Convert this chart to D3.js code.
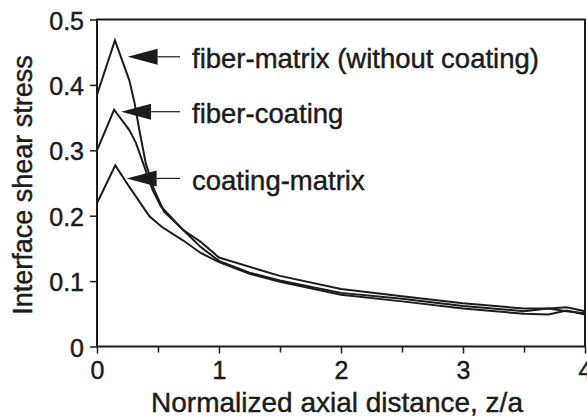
<!DOCTYPE html>
<html>
<head>
<meta charset="utf-8">
<script src="https://cdn.jsdelivr.net/npm/d3@7"></script>
<style>
  body { margin: 0; background: #fff; }
  svg { display: block; }
  text {
    font-family: "Liberation Sans", Arial, Helvetica, sans-serif;
    fill: #1c1c1c;
    stroke: #1c1c1c;
    stroke-width: 0.45px;
  }
</style>
</head>
<body>
<svg id="chart" width="587" height="419"></svg>
<script>
// Interface shear stress along the normalized axial distance z/a
const seriesNames = ["fiber-matrix (without coating)", "fiber-coating", "coating-matrix"];

const xFiberMatrix = [0, 0.147, 0.265, 0.306, 0.347, 0.40, 0.47, 0.55, 0.707, 0.85, 1.0, 1.336, 1.5, 2.0, 2.5, 3.0, 3.5, 3.7, 3.85, 4.0];
const yFiberMatrix = [0.385, 0.468, 0.407, 0.374, 0.331, 0.28, 0.239, 0.206, 0.178, 0.160, 0.136, 0.117, 0.108, 0.088, 0.077, 0.066, 0.058, 0.058, 0.060, 0.054];

const xFiberCoating = [0, 0.14, 0.265, 0.32, 0.388, 0.456, 0.525, 0.707, 0.85, 1.0, 1.25, 1.5, 2.0, 2.5, 3.0, 3.5, 3.7, 3.85, 4.0];
const yFiberCoating = [0.30, 0.362, 0.331, 0.311, 0.275, 0.239, 0.214, 0.178, 0.152, 0.131, 0.113, 0.101, 0.082, 0.073, 0.062, 0.054, 0.058, 0.054, 0.051];

const xCoatingMatrix = [0, 0.15, 0.265, 0.43, 0.53, 0.707, 0.85, 1.0, 1.25, 1.5, 2.0, 2.5, 3.0, 3.5, 3.7, 3.85, 4.0];
const yCoatingMatrix = [0.219, 0.277, 0.244, 0.199, 0.183, 0.162, 0.143, 0.129, 0.111, 0.099, 0.079, 0.069, 0.058, 0.050, 0.049, 0.055, 0.049];

// Arrow tips of the curve labels, in data units
const arrowTipX = [0.251, 0.197, 0.243];
const arrowTipY = [0.443, 0.359, 0.257];

const xMajorTicks = [0, 1, 2, 3, 4];
const xMinorTicks = [0.5, 1.5, 2.5, 3.5];
const yTicks = [0, 0.1, 0.2, 0.3, 0.4, 0.5];
const yTickLabels = ["0", "0.1", "0.2", "0.3", "0.4", "0.5"];
const xTickLabels = ["0", "1", "2", "3", "4"];

const xTitle = "Normalized axial distance, z/a";
const yTitle = "Interface shear stress";

const svg = d3.select("#chart");
const W = 587, H = 419;
const margin = { left: 97, right: 2, top: 19.5, bottom: 72.5 };

const x = d3.scaleLinear().domain([0, 4]).range([margin.left, W - margin.right]);
const y = d3.scaleLinear().domain([0, 0.5]).range([H - margin.bottom, margin.top]);

const ink = "#1c1c1c";

// Y axis
const yAxis = svg.append("g")
  .attr("transform", `translate(${x(0)},0)`)
  .call(d3.axisLeft(y).tickValues(yTicks).tickSize(7).tickPadding(6)
    .tickFormat((d, i) => yTickLabels[i]));
yAxis.select(".domain").remove();
yAxis.selectAll("line").attr("stroke", ink).attr("stroke-width", 1.5);
yAxis.selectAll("text").attr("font-size", 25).attr("fill", ink).attr("dy", "0.38em");

// X axis, major and minor ticks (the last label runs past the right edge)
const xAxis = svg.append("g")
  .attr("transform", `translate(0,${y(0)})`)
  .call(d3.axisBottom(x).tickValues(xMajorTicks).tickSize(7).tickPadding(8)
    .tickFormat((d, i) => xTickLabels[i]));
xAxis.select(".domain").remove();
xAxis.selectAll("line").attr("stroke", ink).attr("stroke-width", 1.5);
xAxis.selectAll("text").attr("font-size", 25).attr("fill", ink);

const xMinor = svg.append("g")
  .attr("transform", `translate(0,${y(0)})`)
  .call(d3.axisBottom(x).tickValues(xMinorTicks).tickSize(6).tickFormat(""));
xMinor.select(".domain").remove();
xMinor.selectAll("line").attr("stroke", ink).attr("stroke-width", 1.5);

// Plot frame
svg.append("rect")
  .attr("x", x(0)).attr("y", y(0.5))
  .attr("width", x(4) - x(0)).attr("height", y(0) - y(0.5))
  .attr("fill", "none").attr("stroke", ink).attr("stroke-width", 2);

// Curves
const line = d3.line().x(d => x(d[0])).y(d => y(d[1])).curve(d3.curveLinear);
const series = [
  d3.zip(xFiberMatrix, yFiberMatrix),
  d3.zip(xFiberCoating, yFiberCoating),
  d3.zip(xCoatingMatrix, yCoatingMatrix)
];
svg.append("g").selectAll("path")
  .data(series)
  .join("path")
  .attr("d", line)
  .attr("fill", "none")
  .attr("stroke", ink)
  .attr("stroke-width", 2)
  .attr("stroke-linejoin", "miter");

// Curve labels with filled arrowheads
const labelX = x(0) + 95;
const lineEndX = x(0) + 83;
const headLen = 30, headHalf = 8;
const ann = svg.append("g");
seriesNames.forEach((name, i) => {
  const tx = x(arrowTipX[i]), ty = y(arrowTipY[i]);
  ann.append("path")
    .attr("d", `M${tx},${ty} L${tx + headLen},${ty - headHalf} L${tx + headLen},${ty + headHalf} Z`)
    .attr("fill", ink);
  ann.append("line")
    .attr("x1", tx + headLen).attr("x2", lineEndX)
    .attr("y1", ty).attr("y2", ty)
    .attr("stroke", ink).attr("stroke-width", 1.2);
  ann.append("text")
    .attr("x", labelX).attr("y", ty)
    .attr("dy", "0.42em")
    .attr("font-size", 27.5)
    .text(name);
});

// Axis titles
svg.append("text")
  .attr("x", 337).attr("y", 412)
  .attr("text-anchor", "middle")
  .attr("font-size", 28)
  .text(xTitle);

svg.append("text")
  .attr("transform", `translate(32,${185}) rotate(-90)`)
  .attr("text-anchor", "middle")
  .attr("font-size", 27)
  .text(yTitle);
</script>
</body>
</html>
